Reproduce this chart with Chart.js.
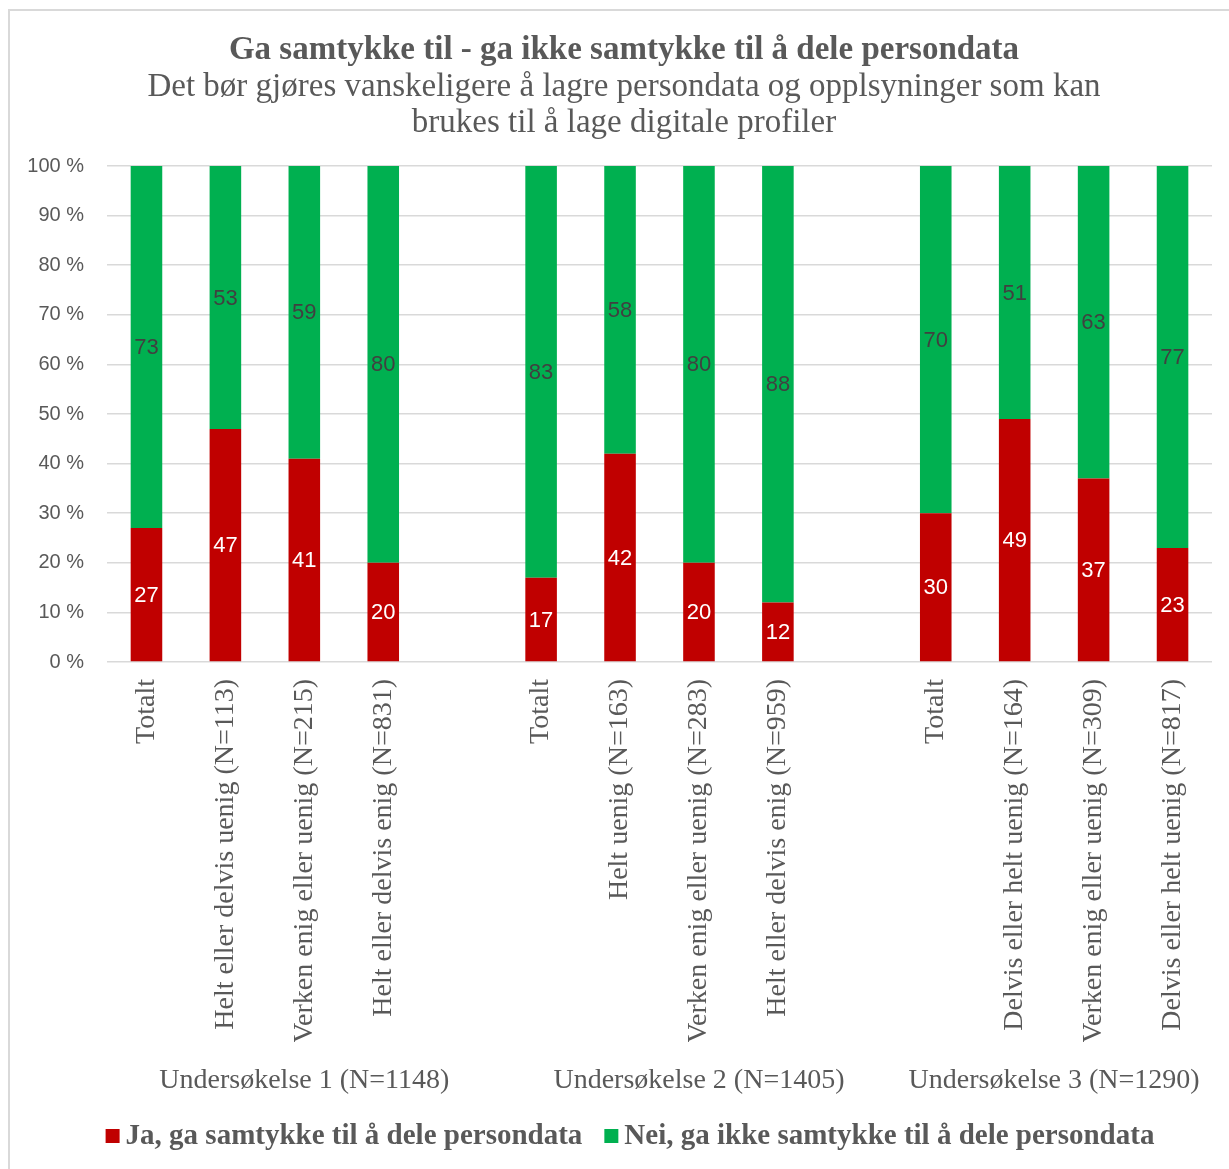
<!DOCTYPE html>
<html>
<head>
<meta charset="utf-8">
<script src="https://cdn.jsdelivr.net/npm/chart.js@4/dist/chart.umd.min.js"></script>
<style>
  html, body { margin: 0; padding: 0; background: #fff; overflow: hidden; width: 1229px; height: 1169px; }
  #wrap { position: absolute; left: 8px; top: 9px; width: 1232px; height: 1164px; border: 2px solid #d9d9d9; box-sizing: border-box; }
  #c { position: absolute; left: 0; top: 0; }
</style>
</head>
<body>
<div id="wrap"><canvas id="c" width="1228" height="1160"></canvas></div>
<script>
// ---- Data ----
const categories = [
  "Totalt", "Helt eller delvis uenig (N=113)", "Verken enig eller uenig (N=215)", "Helt eller delvis enig (N=831)", "",
  "Totalt", "Helt uenig (N=163)", "Verken enig eller uenig (N=283)", "Helt eller delvis enig (N=959)", "",
  "Totalt", "Delvis eller helt uenig (N=164)", "Verken enig eller uenig (N=309)", "Delvis eller helt uenig (N=817)"
];
const jaValues  = [27, 47, 41, 20, null, 17, 42, 20, 12, null, 30, 49, 37, 23];
const neiValues = [73, 53, 59, 80, null, 83, 58, 80, 88, null, 70, 51, 63, 77];
const seriesLabels = ["Ja, ga samtykke til å dele persondata", "Nei, ga ikke samtykke til å dele persondata"];
const groupLabels = ["Undersøkelse 1 (N=1148)", "Undersøkelse 2 (N=1405)", "Undersøkelse 3 (N=1290)"];
const groupStart = [0, 5, 10];
const groupEnd   = [4, 9, 13];
const titleText = "Ga samtykke til - ga ikke samtykke til å dele persondata";
const subtitleLines = ["Det bør gjøres vanskeligere å lagre persondata og opplsyninger som kan", "brukes til å lage digitale profiler"];

// ---- Style ----
const RED = "#C00000", GREEN = "#00B050", GRAY = "#595959";
const SERIF = "'Liberation Serif', 'Times New Roman', serif";
const SANS = "'Liberation Sans', Arial, sans-serif";

const decorPlugin = {
  id: "decor",
  afterDraw(chart) {
    const ctx = chart.ctx;
    const cx = chart.width / 2;
    ctx.save();
    ctx.fillStyle = GRAY;
    ctx.textAlign = "center";
    ctx.textBaseline = "middle";
    ctx.font = "bold 33px " + SERIF;
    ctx.fillText(titleText, cx, 39);
    ctx.font = "33px " + SERIF;
    ctx.fillText(subtitleLines[0], cx, 76);
    ctx.fillText(subtitleLines[1], cx, 112);

    // group labels
    const xs = chart.scales.x;
    const gy = chart.chartArea.bottom + 419;
    ctx.font = "28px " + SERIF;
    for (let i = 0; i < groupLabels.length; i++) {
      const gx = (xs.getPixelForValue(groupStart[i]) + xs.getPixelForValue(groupEnd[i])) / 2;
      ctx.fillText(groupLabels[i], gx, gy);
    }

    // legend
    const ly = chart.chartArea.bottom + 474;
    ctx.font = "bold 29px " + SERIF;
    const box = 14, gapBT = 6, gapItems = 22;
    const colors = [RED, GREEN];
    const widths = seriesLabels.map(t => ctx.measureText(t).width);
    const total = widths.reduce((a, w) => a + box + gapBT + w, 0) + gapItems;
    let x = 620 - total / 2;
    ctx.textAlign = "left";
    for (let i = 0; i < seriesLabels.length; i++) {
      ctx.fillStyle = colors[i];
      ctx.fillRect(x, ly - box / 2, box, box);
      x += box + gapBT;
      ctx.fillStyle = GRAY;
      ctx.fillText(seriesLabels[i], x, ly + 1);
      x += widths[i] + gapItems;
    }
    ctx.restore();
  },
  afterDatasetsDraw(chart) {
    const ctx = chart.ctx;
    ctx.save();
    ctx.textAlign = "center";
    ctx.textBaseline = "middle";
    ctx.font = "22px " + SANS;
    chart.data.datasets.forEach((ds, di) => {
      const meta = chart.getDatasetMeta(di);
      meta.data.forEach((el, i) => {
        const v = ds.data[i];
        if (v === null || v === undefined) return;
        ctx.fillStyle = di === 0 ? "#FFFFFF" : "#404040";
        ctx.fillText(String(v), el.x, (el.y + el.base) / 2 + 1);
      });
    });
    ctx.restore();
  }
};

function build() {
  new Chart(document.getElementById("c"), {
    type: "bar",
    data: {
      labels: categories,
      datasets: [
        { label: seriesLabels[0], data: jaValues, backgroundColor: RED, borderWidth: 0 },
        { label: seriesLabels[1], data: neiValues, backgroundColor: GREEN, borderWidth: 0 }
      ]
    },
    options: {
      responsive: false,
      animation: false,
      devicePixelRatio: 1,
      layout: { padding: { top: 155, left: 0, right: 26, bottom: 1160 - 651 - 380 } },
      datasets: { bar: { categoryPercentage: 1.0, barPercentage: 0.4 } },
      plugins: { legend: { display: false }, title: { display: false }, tooltip: { enabled: false } },
      scales: {
        x: {
          stacked: true,
          grid: { display: false, drawTicks: false },
          border: { display: false },
          ticks: {
            autoSkip: false, maxRotation: 90, minRotation: 90, padding: 17,
            color: GRAY, font: { family: SERIF, size: 28 }
          },
          afterFit(s) { s.height = 380; s.paddingLeft = 0; s.paddingRight = 0; }
        },
        y: {
          stacked: true, min: 0, max: 100,
          grid: { color: "#d9d9d9", lineWidth: 1.5, drawTicks: false },
          border: { display: false },
          ticks: {
            stepSize: 10, padding: 23, color: GRAY, font: { family: SANS, size: 20 },
            callback: v => v + " %"
          },
          afterFit(s) { s.width = 97; s.paddingTop = 0; s.paddingBottom = 0; }
        }
      }
    },
    plugins: [decorPlugin]
  });
}
if (document.fonts && document.fonts.load) {
  Promise.all([
    document.fonts.load("24px 'Liberation Serif'"),
    document.fonts.load("bold 24px 'Liberation Serif'"),
    document.fonts.load("20px 'Liberation Sans'")
  ]).then(build, build);
} else { build(); }
</script>
</body>
</html>
